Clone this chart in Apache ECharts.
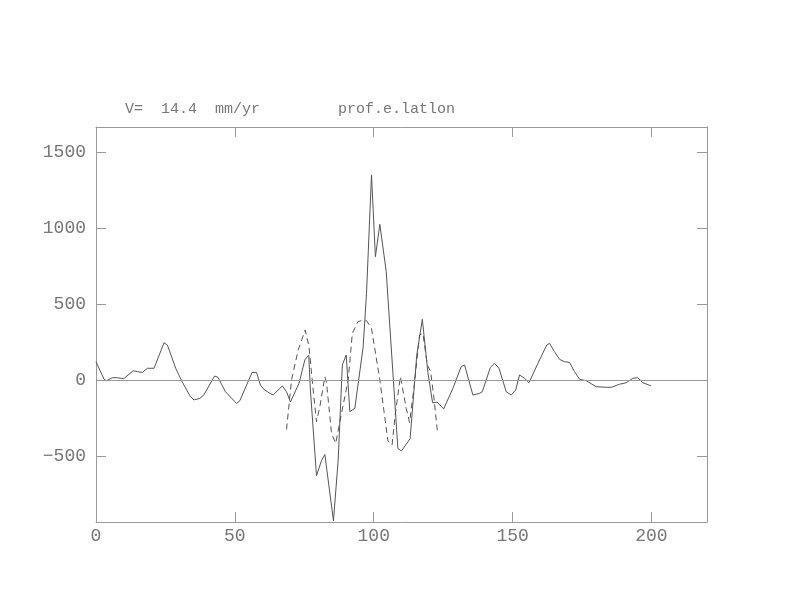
<!DOCTYPE html>
<html>
<head>
<meta charset="utf-8">
<script src="https://cdn.jsdelivr.net/npm/echarts@6/dist/echarts.min.js"></script>
<style>html,body{margin:0;padding:0;background:#fff}#c{width:792px;height:612px}</style>
</head>
<body>
<div id="c"></div>
<script>
var titleLeft = 'V=  14.4  mm/yr';
var titleRight = 'prof.e.latlon';
var xTicks = [0, 50, 100, 150, 200];
var yTicks = [-500, 0, 500, 1000, 1500];
var xRange = [0, 220];
var yRange = [-934, 1664];

var solidX = [0,2.9,3.8,5.9,7.7,10,13.4,14.9,16.7,18.5,20.9,24.5,25.7,28.7,31,34,35.3,37.4,38.8,42.7,43.9,46.6,50.6,51.8,56.2,57.8,59.2,60.4,62.6,63.8,67.1,68.6,70,73.1,75.2,76.6,77.2,79.4,81.2,82.4,85.5,87.2,88.7,90.1,91.4,93.2,96.2,97.4,99.2,100.6,102.2,104.5,108.7,110,113.1,115.5,117.5,119.5,121.2,122.8,125.2,128.5,131.5,132.7,135.7,138.1,139.1,142,143.5,145.1,147.7,149.5,151.1,152.5,154.3,155.9,159.7,162.3,163.3,165.1,166.9,168.7,170.5,172.3,174.1,176.5,180.1,183.7,185.5,188.5,190.9,193.3,195.1,196.9,199.9];
var solidY = [120,5,-5,15,15,9,61,55,50,77,77,245,230,77,-11,-110,-131,-121,-99,26,18,-77,-154,-136,50,50,-33,-61,-88,-99,-39,-77,-145,-22,132,164,-66,-630,-530,-490,-926,-526,100,164,-208,-186,219,570,1349,811,1024,713,-450,-467,-386,164,399,50,-150,-145,-190,-55,88,99,-99,-88,-77,83,110,77,-77,-99,-66,33,11,-18,132,230,241,186,136,120,116,55,5,-5,-44,-48,-48,-28,-18,11,15,-18,-39];

var dashX = [68.6,70.4,72.8,75.3,76.7,78.2,79.4,80.6,82.4,83,84.8,86.3,88.4,90.8,92.3,94.3,96,97.4,99.2,102.2,105.1,106.6,107.8,109.6,111.7,112.9,114.5,116.5,117.7,119.3,120.5,121.7,123];
var dashY = [-325,0,197,329,219,-66,-274,-175,22,-16,-351,-417,-219,0,307,384,392,390,340,0,-400,-428,-219,22,-186,-280,-50,296,307,99,55,-121,-351];

function pairs(xs, ys) { return xs.map(function (x, i) { return [x, ys[i]]; }); }

var FONT = '"Liberation Mono", "DejaVu Sans Mono", monospace';
var AX = '#999';
var TX = '#777';
var LN = '#555';

var chart = echarts.init(document.getElementById('c'), null, {renderer: 'canvas'});
chart.setOption({
  animation: false,
  backgroundColor: '#fff',
  title: [
    {text: titleLeft, left: 120, top: 97, textStyle: {fontFamily: FONT, fontSize: 15, fontWeight: 'normal', color: TX}},
    {text: titleRight, left: 333, top: 97, textStyle: {fontFamily: FONT, fontSize: 15, fontWeight: 'normal', color: TX}}
  ],
  grid: {left: 96, right: 85, top: 127, bottom: 90, containLabel: false},
  xAxis: [
    {type: 'value', position: 'bottom', min: xRange[0], max: xRange[1],
     axisLine: {show: true, onZero: false, lineStyle: {color: AX, width: 1}},
     axisTick: {show: true, inside: true, length: 10, lineStyle: {color: AX}, customValues: xTicks},
     axisLabel: {show: true, customValues: xTicks, margin: 5, fontFamily: FONT, fontSize: 18, color: TX},
     splitLine: {show: false}},
    {type: 'value', position: 'top', min: xRange[0], max: xRange[1],
     axisLine: {show: true, onZero: false, lineStyle: {color: AX, width: 1}},
     axisTick: {show: true, inside: true, length: 10, lineStyle: {color: AX}, customValues: xTicks},
     axisLabel: {show: false},
     splitLine: {show: false}}
  ],
  yAxis: [
    {type: 'value', position: 'left', min: yRange[0], max: yRange[1],
     axisLine: {show: true, onZero: false, lineStyle: {color: AX, width: 1}},
     axisTick: {show: true, inside: true, length: 10, lineStyle: {color: AX}, customValues: yTicks},
     axisLabel: {show: true, customValues: yTicks, margin: 10, fontFamily: FONT, fontSize: 18, color: TX,
       formatter: function (v) { return String(v).replace('-', '\u2212'); }},
     splitLine: {show: false}},
    {type: 'value', position: 'right', min: yRange[0], max: yRange[1],
     axisLine: {show: true, onZero: false, lineStyle: {color: AX, width: 1}},
     axisTick: {show: true, inside: true, length: 10, lineStyle: {color: AX}, customValues: yTicks},
     axisLabel: {show: false},
     splitLine: {show: false}}
  ],
  series: [
    {type: 'line', xAxisIndex: 0, yAxisIndex: 0, data: pairs(solidX, solidY), symbol: 'none',
     lineStyle: {color: LN, width: 1, type: 'solid'}, z: 3,
     markLine: {silent: true, symbol: 'none', label: {show: false},
       lineStyle: {color: AX, width: 1, type: 'solid'}, data: [{yAxis: 0}]}},
    {type: 'line', xAxisIndex: 0, yAxisIndex: 0, data: pairs(dashX, dashY), symbol: 'none',
     lineStyle: {color: LN, width: 1, type: [6, 4]}, z: 3}
  ]
});
</script>
</body>
</html>
